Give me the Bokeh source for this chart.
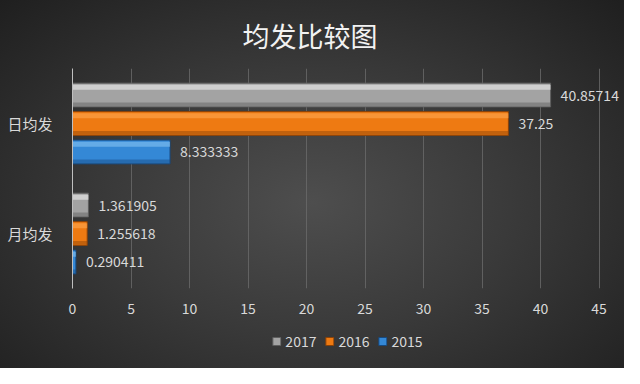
from bokeh.plotting import figure
from bokeh.layouts import column
from bokeh.models import FactorRange, ColumnDataSource, Legend, LegendItem, FixedTicker
from bokeh.transform import dodge
from bokeh.core.properties import value
from bokeh.embed import file_html
from bokeh.resources import INLINE

categories = ["月均发", "日均发"]
series = ["2017", "2016", "2015"]
values_2017 = [1.361905, 40.85714]
values_2016 = [1.255618, 37.25]
values_2015 = [0.290411, 8.333333]
x_ticks = [0, 5, 10, 15, 20, 25, 30, 35, 40, 45]

FONT = "Noto Sans CJK SC"
TXT = "#d9d9d9"

p = figure(width=624, height=326, output_backend="svg", toolbar_location=None,
           y_range=FactorRange(*categories), x_range=(0, 47),
           min_border_left=72, min_border_right=2, min_border_top=0, min_border_bottom=38)
p.background_fill_alpha = 0
p.border_fill_alpha = 0
p.outline_line_alpha = 0

p.title.text = "均发比较图"
p.title.align = "left"
p.title.offset = 170
p.title.text_font = FONT
p.title.text_font_size = "27px"
p.title.text_font_style = "normal"
p.title.text_color = "#f2f2f2"
p.title.standoff = 27

specs = [("2017", values_2017, 0.259, "#a3a3a3", "#ececec", "#5e5e5e"),
         ("2016", values_2016, 0.0, "#ee7a12", "#ffa650", "#8a4208"),
         ("2015", values_2015, -0.259, "#3488d6", "#86c3f2", "#174a80")]

# separate small figure that carries the legend below the axis labels
lg = figure(width=624, height=42, output_backend="svg", toolbar_location=None,
            x_axis_location=None, y_axis_location=None, min_border=0,
            x_range=(1, 2), y_range=(1, 2))
lg.background_fill_alpha = 0
lg.border_fill_alpha = 0
lg.outline_line_alpha = 0
lg.grid.visible = False

items = []
for name, vals, off, col, hi, dark in specs:
    src = ColumnDataSource(dict(cat=categories, v=vals, lab=[f"{v:.7g}" for v in vals]))
    p.hbar(y=dodge("cat", off, range=p.y_range), right="v", left=0, height=0.216, source=src,
           fill_color=col, line_color=dark, line_width=1)
    p.hbar(y=dodge("cat", off + 0.07, range=p.y_range), right="v", left=0, height=0.045, source=src,
           fill_color=hi, fill_alpha=0.6, line_color=None)
    p.hbar(y=dodge("cat", off - 0.085, range=p.y_range), right="v", left=0, height=0.035, source=src,
           fill_color=dark, fill_alpha=0.45, line_color=None)
    p.text(x="v", y=dodge("cat", off, range=p.y_range), text="lab", source=src,
           x_offset=10, text_baseline="middle", text_align="left",
           text_font=value(FONT), text_font_size="14px", text_color=TXT)
    # legend proxy, kept outside the visible range of the legend strip
    r = lg.hbar(y=[0], left=[0], right=[0], height=0.5, fill_color=col, line_color=dark, line_width=1)
    items.append(LegendItem(label=name, renderers=[r]))

legend = Legend(items=items, orientation="horizontal", location="top_center",
                background_fill_alpha=0, border_line_alpha=0, padding=2, margin=3,
                label_text_color=TXT, label_text_font=FONT, label_text_font_size="14px",
                glyph_width=10, glyph_height=10, spacing=8, label_standoff=4)
lg.add_layout(legend, "center")

p.xaxis.ticker = FixedTicker(ticks=x_ticks)
p.xaxis.axis_line_color = None
p.xaxis.major_tick_line_color = None
p.xaxis.minor_tick_line_color = None
p.xaxis.major_label_text_color = TXT
p.xaxis.major_label_text_font = FONT
p.xaxis.major_label_text_font_size = "14px"
p.xaxis.major_label_standoff = 8

p.yaxis.axis_line_color = "#bfbfbf"
p.yaxis.major_tick_line_color = None
p.yaxis.minor_tick_line_color = None
p.yaxis.major_label_text_color = TXT
p.yaxis.major_label_text_font = FONT
p.yaxis.major_label_text_font_size = "15px"
p.yaxis.major_label_standoff = 14

p.xgrid.grid_line_color = "#6a6a6a"
p.xgrid.grid_line_alpha = 0.8
p.ygrid.grid_line_color = None

layout = column(p, lg, spacing=0)
layout.styles = {"background": "radial-gradient(ellipse at 50% 55%, #4e4e4e 0%, #3a3a3a 45%, #1f1f1f 100%)"}

open("out.html", "w").write(file_html(layout, INLINE))
